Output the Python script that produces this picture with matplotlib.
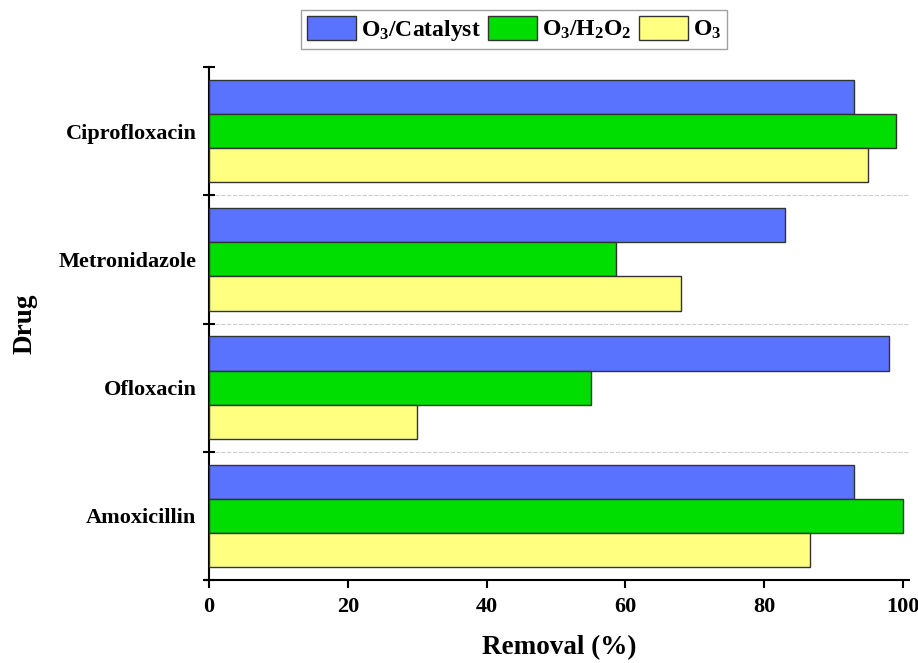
import numpy as np
from matplotlib import pyplot as plt

plt.rcParams['font.family'] = ['Liberation Serif', 'DejaVu Serif']
plt.rcParams['font.weight'] = 'bold'
plt.rcParams['mathtext.fontset'] = 'custom'
plt.rcParams['mathtext.rm'] = 'Liberation Serif:bold'
plt.rcParams['mathtext.it'] = 'Liberation Serif:bold'
plt.rcParams['mathtext.bf'] = 'Liberation Serif:bold'

drugs = ["Amoxicillin", "Ofloxacin", "Metronidazole", "Ciprofloxacin"]
o3_catalyst = [93, 98, 83, 93]
o3_h2o2 = [100, 55, 58.7, 99]
o3_only = [86.7, 30, 68, 95]

series = [
    ("O$_3$/Catalyst", o3_catalyst, "#5a73ff"),
    ("O$_3$/H$_2$O$_2$", o3_h2o2, "#00dd00"),
    ("O$_3$", o3_only, "#ffff80"),
]

fig = plt.figure(figsize=(9.18, 6.63), dpi=100)
ax = fig.add_axes([209 / 918, 1 - 580 / 663, 700 / 918, 513 / 663])

y = np.arange(len(drugs))
h = 0.266
for i, (label, vals, color) in enumerate(series):
    ax.barh(y + (1 - i) * h, vals, height=h, color=color,
            edgecolor="#333333", linewidth=1, label=label, zorder=3)

ax.set_xlim(0, 100.9)
ax.set_ylim(-0.5, len(drugs) - 0.5)
ax.set_xticks([0, 20, 40, 60, 80, 100])
ax.set_yticks(y)
ax.set_yticklabels(drugs)
ax.set_yticks(np.arange(-0.5, len(drugs)), minor=True)
# dashed separators between drug groups
for b in np.arange(0.5, len(drugs) - 1):
    ax.axhline(b, linestyle="--", color="#cccccc", linewidth=0.8, zorder=0)

for s in ["top", "right"]:
    ax.spines[s].set_visible(False)
ax.spines["left"].set_linewidth(1.5)
ax.spines["bottom"].set_linewidth(1.5)
ax.spines["bottom"].set_bounds(-0.6, 100.9)

ax.tick_params(axis="y", which="major", length=0, pad=9, labelsize=16)
ax.tick_params(axis="y", which="minor", direction="inout", length=9, width=1.5)
ax.tick_params(axis="x", which="major", direction="out", length=6, width=1.5, labelsize=16, pad=6)

ax.set_xlabel("Removal (%)", fontsize=19.5, fontweight="bold", labelpad=13)
ax.set_ylabel("Drug", fontsize=19.5, fontweight="bold", labelpad=15)

leg = fig.legend(loc="upper center", bbox_to_anchor=(514 / 918, 1 - 10 / 663), ncol=3,
                 fontsize=17, frameon=True, fancybox=False, edgecolor="#888888",
                 handlelength=2.1, handleheight=1.2, handletextpad=0.2,
                 columnspacing=0.3, borderpad=0.25, borderaxespad=0)
leg.get_frame().set_linewidth(1)

plt.savefig("out.png", dpi=100)
